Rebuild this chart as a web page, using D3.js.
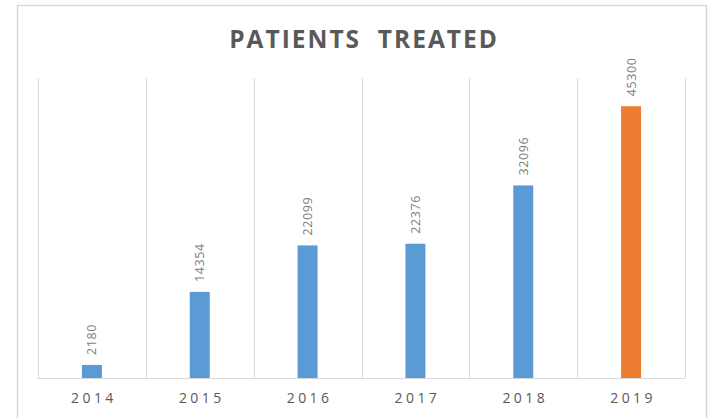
<!DOCTYPE html>
<html>
<head>
<meta charset="utf-8">
<script src="https://cdnjs.cloudflare.com/ajax/libs/d3/7.8.5/d3.min.js"></script>
<style>
body { margin: 0; background: #fff; }
svg { display: block; font-family: "Open Sans", "Noto Sans", sans-serif; }
</style>
</head>
<body>
<svg id="chart" width="714" height="418"></svg>
<script>
var years = ["2014", "2015", "2016", "2017", "2018", "2019"];
var patients = [2180, 14354, 22099, 22376, 32096, 45300];
var barColors = ["#5b9bd5", "#5b9bd5", "#5b9bd5", "#5b9bd5", "#5b9bd5", "#ed7d31"];
var title = "PATIENTS  TREATED";

var svg = d3.select("#chart");

// outer frame
svg.append("rect")
	.attr("x", 17.5).attr("y", 5.5)
	.attr("width", 689).attr("height", 430)
	.attr("fill", "none")
	.attr("stroke", "#d9d9d9")
	.attr("stroke-width", 1.5);

var x = d3.scaleBand()
	.domain(years)
	.range([38, 685]);

var y = d3.scaleLinear()
	.domain([0, 50000])
	.range([378, 78]);

// vertical gridlines between categories
var edges = years.map(function(d) { return x(d); }).concat([x.range()[1]]);
svg.append("g").selectAll("line")
	.data(edges)
	.enter()
	.append("line")
	.attr("x1", function(d) { return Math.round(d) + 0.5; })
	.attr("x2", function(d) { return Math.round(d) + 0.5; })
	.attr("y1", y(50000))
	.attr("y2", y(0))
	.attr("stroke", "#d9d9d9");

// bars
var barW = 20;
svg.append("g").selectAll("rect")
	.data(patients)
	.enter()
	.append("rect")
	.attr("x", function(d, i) { return x(years[i]) + x.bandwidth() / 2 - barW / 2; })
	.attr("y", function(d) { return y(d); })
	.attr("width", barW)
	.attr("height", function(d) { return y(0) - y(d); })
	.attr("fill", function(d, i) { return barColors[i]; });

// baseline
svg.append("line")
	.attr("x1", 38).attr("x2", 685)
	.attr("y1", 378.5).attr("y2", 378.5)
	.attr("stroke", "#d9d9d9");

// value labels, rotated
svg.append("g").selectAll("text")
	.data(patients)
	.enter()
	.append("text")
	.attr("transform", function(d, i) {
		var cx = x(years[i]) + x.bandwidth() / 2;
		return "translate(" + (cx + 4.5) + "," + (y(d) - 10) + ") rotate(-90)";
	})
	.attr("font-size", 12.5)
	.attr("letter-spacing", 0.6)
	.attr("fill", "#7f7f7f")
	.text(function(d) { return d; });

// x labels
svg.append("g").selectAll("text")
	.data(years)
	.enter()
	.append("text")
	.attr("x", function(d) { return x(d) + x.bandwidth() / 2 + 2; })
	.attr("y", 403)
	.attr("text-anchor", "middle")
	.attr("font-size", 14)
	.attr("letter-spacing", 3.4)
	.attr("fill", "#595959")
	.text(function(d) { return d; });

// title
svg.append("text")
	.attr("x", 364)
	.attr("y", 48)
	.attr("text-anchor", "middle")
	.attr("font-size", 24.5)
	.attr("font-weight", "bold")
	.attr("letter-spacing", 2)
	.attr("fill", "#595959")
	.style("white-space", "pre")
	.text(title);
</script>
</body>
</html>
